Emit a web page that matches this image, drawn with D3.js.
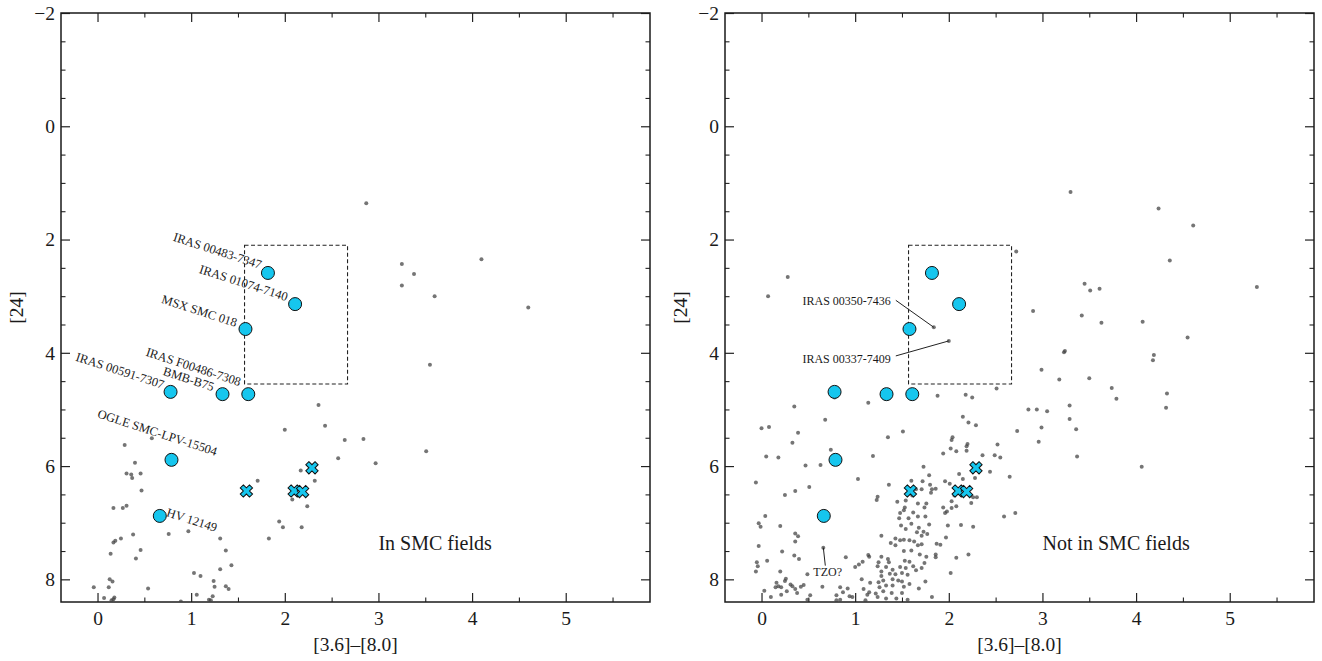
<!DOCTYPE html>
<html><head><meta charset="utf-8">
<script src="https://cdn.jsdelivr.net/npm/d3@7"></script>
<style>
body{margin:0;background:#fff}
svg text{font-family:"Liberation Serif","Times New Roman",Times,serif;fill:#1a1a1a}
</style>
</head><body>
<svg id="chart" width="1322" height="661"></svg>
<script>
// ---------------- DATA ----------------
const xMajorTicks = [0, 1, 2, 3, 4, 5];
const yMajorTicks = [-2, 0, 2, 4, 6, 8];
const xTitle = "[3.6]\u2013[8.0]";
const yTitle = "[24]";
const panelNames = ["In SMC fields", "Not in SMC fields"];

// Named objects (cyan circles): [3.6]-[8.0], [24]
const objNames = ["IRAS 00483-7347", "IRAS 01074-7140", "MSX SMC 018", "IRAS 00591-7307",
                  "BMB-B75", "IRAS F00486-7308", "OGLE SMC-LPV-15504", "HV 12149"];
const objColor = [1.82, 2.11, 1.58, 0.78, 1.335, 1.61, 0.79, 0.665];
const objMag   = [2.59, 3.14, 3.58, 4.69, 4.73, 4.73, 5.89, 6.88];

// Cross markers
const crossColor = [1.59, 2.10, 2.19, 2.29];
const crossMag   = [6.44, 6.44, 6.45, 6.03];

// Selection box
const boxColor = [1.57, 2.67];
const boxMag   = [2.10, 4.55];

// Background sources in SMC fields
const smcDots = [
[2.87,1.36],[3.25,2.43],[3.38,2.61],[3.25,2.81],[3.60,3.00],[4.10,2.35],[4.60,3.20],[3.55,4.21],[3.51,5.74],
[2.36,4.92],[2.43,5.29],[2.00,5.36],[2.64,5.54],[2.84,5.52],[2.57,5.86],[2.97,5.95],[2.17,6.08],[2.32,6.26],
[1.71,6.26],[2.08,6.59],[2.24,6.71],[1.94,6.98],[1.98,7.08],[2.18,7.08],[1.83,7.28],
[0.58,5.51],[0.29,5.63],[0.40,5.94],[0.31,6.13],[0.36,6.15],[0.46,6.13],[0.37,6.21],[0.47,6.43],[0.17,6.74],
[0.27,6.74],[0.31,6.70],[0.76,7.20],[0.97,7.15],[0.38,7.21],[0.25,7.28],[0.17,7.35],[0.19,7.32],[0.14,7.55],
[0.46,7.48],[0.41,7.63],[1.31,7.28],[1.37,7.49],[1.43,7.75],[1.31,7.82],[1.03,7.89],[1.10,7.94],[1.24,8.03],
[1.25,8.13],[1.37,8.12],[1.40,8.17],[0.13,8.00],[0.16,8.04],[0.12,8.14],[-0.04,8.14],[0.54,8.16],[1.06,8.27],
[1.23,8.30],[1.19,8.36],[0.07,8.33],[0.17,8.35],[0.18,8.32],[0.89,8.39],[0.15,8.37],[1.21,8.37]
];

// Background sources not in SMC fields
const fieldDots = [
[0.07,3.00],[0.28,2.66],[1.84,3.55],[2.00,3.79],
[3.30,1.16],[4.24,1.45],[4.61,1.75],[2.72,2.21],[4.36,2.37],[5.29,2.84],[3.45,2.78],[3.51,2.90],[3.61,2.87],
[2.90,3.26],[3.42,3.34],[3.63,3.47],[4.07,3.45],[3.24,3.97],[3.23,3.99],[2.99,4.30],[3.18,4.47],[3.50,4.45],
[3.74,4.62],[3.79,4.81],[2.51,4.63],[2.25,4.79],[4.55,3.73],[4.18,4.13],[4.19,4.04],[4.33,4.72],[4.32,4.97],
[2.85,5.00],[2.94,5.00],[3.05,5.03],[3.29,4.93],[3.29,5.17],[2.99,5.32],[3.36,5.35],[2.73,5.38],[2.96,5.57],
[3.37,5.83],[4.06,6.01],[2.55,5.85],[2.65,6.19],[2.59,6.89],[2.71,6.83],
[0.78,4.79],[1.14,4.88],[1.88,4.76],[2.18,4.74],
[0.35,4.95],[0.68,5.18],[0.00,5.33],[0.08,5.31],[0.39,5.41],[0.33,5.59],[0.74,5.71],[0.05,5.83],[0.18,5.85],
[1.19,5.82],[0.47,5.99],[0.63,5.98],[-0.06,6.29],[1.03,6.23],[0.51,6.37],[0.36,6.44],[0.25,6.51],[1.24,6.54],
[1.23,6.60],[0.04,6.88],[-0.03,7.01],[-0.01,7.07],[0.20,7.06],[0.36,7.19],[0.39,7.24],[0.36,7.33],[1.28,7.23],
[-0.03,7.41],[0.66,7.44],[0.22,7.51],[0.35,7.58],[0.40,7.64],[0.06,7.67],[-0.05,7.70],[-0.04,7.77],[-0.06,7.86],
[0.90,7.61],[1.00,7.78],[1.04,7.74],[1.08,7.69],[1.14,7.57],[1.15,7.60],[1.25,7.70],[1.24,7.77],[1.28,7.86],
[0.49,7.91],[0.20,7.86],[0.26,7.99],[0.25,8.03],[0.16,8.06],[0.18,8.12],[0.15,8.14],[0.21,8.14],[0.31,8.09],
[0.33,8.12],[0.36,8.17],[0.42,8.13],[0.45,8.10],[0.38,8.24],[0.27,8.21],[0.21,8.27],[0.03,8.20],[0.10,8.31],
[0.52,8.28],[0.65,8.13],[0.84,8.14],[0.80,8.28],[0.87,8.23],[0.92,8.16],[0.97,8.31],[0.94,8.30],[1.07,8.00],
[1.16,8.06],[1.09,8.17],[1.15,8.23],[1.13,8.27],[1.22,8.25],[1.24,8.31],[1.26,8.14],[1.25,8.05],[1.28,7.94],
[0.49,8.36],[0.80,8.37],[0.84,8.36],[1.11,8.37],
[1.51,5.39],[1.35,5.49],[2.15,5.13],[2.21,5.23],[2.29,5.28],[2.04,5.49],[2.03,5.54],[2.20,5.61],[2.19,5.65],
[2.02,5.69],[2.08,5.74],[2.19,5.73],[2.52,5.62],[1.94,5.78],[2.36,5.81],[2.49,5.81],[1.73,6.01],[2.44,6.10],
[2.11,6.14],[2.15,6.23],[2.28,6.21],[1.79,6.16],[1.60,6.26],[1.72,6.27],[1.80,6.33],[1.36,6.33],[1.96,6.27],
[2.01,6.31],[1.65,6.41],[1.71,6.41],[1.82,6.41],[1.86,6.40],[1.81,6.47],[2.26,6.55],[2.30,6.55],[2.06,6.52],
[1.45,6.63],[1.54,6.61],[1.61,6.52],[1.67,6.66],[1.76,6.66],[2.03,6.62],[2.24,6.65],[1.94,6.73],[2.03,6.74],
[2.08,6.71],[1.98,6.80],[1.96,6.83],[1.53,6.73],[1.74,6.73],[1.48,6.83],[1.52,6.78],[1.62,6.82],[1.67,6.89],
[1.75,6.89],[1.47,6.92],[1.57,6.92],[1.79,7.03],[1.99,7.05],[2.13,7.04],[2.26,7.07],[1.49,7.05],[1.54,7.11],
[1.60,7.02],[1.68,7.09],[1.66,7.17],[1.73,7.16],[1.71,7.23],[1.77,7.20],[1.97,7.26],[1.43,7.28],[1.48,7.31],
[1.52,7.30],[1.58,7.31],[1.38,7.36],[1.43,7.40],[1.63,7.33],[1.67,7.40],[1.71,7.38],[1.87,7.37],[1.91,7.39],
[1.52,7.50],[1.60,7.49],[1.69,7.56],[1.76,7.60],[1.86,7.56],[1.86,7.61],[2.08,7.62],[2.21,7.56],[1.28,7.60],
[1.35,7.64],[1.36,7.70],[1.53,7.67],[1.58,7.69],[1.33,7.78],[1.40,7.83],[1.48,7.78],[1.54,7.80],[1.62,7.77],
[1.65,7.84],[1.71,7.80],[1.74,7.71],[1.37,7.90],[1.43,7.91],[1.50,7.89],[1.56,7.92],[1.75,8.04],[2.02,7.89],
[1.40,8.00],[1.46,8.02],[1.50,8.04],[1.58,8.08],[1.30,8.02],[1.33,8.11],[1.40,8.11],[1.52,8.13],[1.68,8.16],
[1.30,8.21],[1.39,8.24],[1.50,8.24],[1.82,8.31],[1.33,8.34],[1.44,8.34],[1.56,8.36]
];

// Callouts in the right panel (point they refer to)
const calloutNames = ["IRAS 00350-7436", "IRAS 00337-7409", "TZO?"];
const calloutColor = [1.84, 2.00, 0.66];
const calloutMag   = [3.55, 3.79, 7.44];

// ---------------- LAYOUT / STYLE ----------------
const xDomain = [-0.39, 5.9], yDomain = [-2, 8.4];
const panels = [
  {left: 61,  top: 13, w: 589, h: 589, dots: smcDots,   name: panelNames[0], labels: true},
  {left: 725, top: 13, w: 589, h: 589, dots: fieldDots, name: panelNames[1], labels: false}
];
const cyan = "#16c6ee";
const fontSize = 19.5;
// label placement (pixel offsets from marker, anchor)
const labelStyle = [
  {dx:-8, dy:-4, a:"end"}, {dx:-9, dy:-3, a:"end"}, {dx:-10, dy:-2, a:"end"}, {dx:-8, dy:-3, a:"end"},
  {dx:-10, dy:-3, a:"end"}, {dx:-9, dy:-8, a:"end"}, {dx:44, dy:-4, a:"end"}, {dx:6, dy:0, a:"start"}
];
const calloutStyle = [
  {tx:-43, ty:-22, a:"end", lx:-38, ly:-27},
  {tx:-58, ty:22, a:"end", lx:-53, ly:15},
  {tx:-10, ty:28, a:"start", lx:2, ly:18}
];

const svg = d3.select("#chart");
const fmt = v => (v < 0 ? "\u2212" : "") + Math.abs(v);
const range = (a, b, s) => d3.range(a, b + 1e-9, s);
const xMinor = range(-0.0, 5.5, 0.5).filter(v => !xMajorTicks.includes(v));
const yMinor = range(-2, 8, 0.5).filter(v => !yMajorTicks.includes(v));

panels.forEach((p, pi) => {
  const x = d3.scaleLinear().domain(xDomain).range([p.left, p.left + p.w]);
  const y = d3.scaleLinear().domain(yDomain).range([p.top, p.top + p.h]);
  const g = svg.append("g");
  const clipId = "clip" + pi;
  svg.append("clipPath").attr("id", clipId).append("rect")
    .attr("x", p.left).attr("y", p.top).attr("width", p.w).attr("height", p.h);

  // axes (ticks inward)
  const axes = [
    {ax: d3.axisBottom(x), tr: `translate(0,${p.top + p.h})`, maj: xMajorTicks, min: xMinor, lab: true, pad: 9.5},
    {ax: d3.axisTop(x), tr: `translate(0,${p.top})`, maj: xMajorTicks, min: xMinor, lab: false},
    {ax: d3.axisLeft(y), tr: `translate(${p.left},0)`, maj: yMajorTicks, min: yMinor, lab: true, pad: 6},
    {ax: d3.axisRight(y), tr: `translate(${p.left + p.w},0)`, maj: yMajorTicks, min: yMinor, lab: false}
  ];
  axes.forEach(a => {
    const gm = g.append("g").attr("transform", a.tr)
      .call(a.ax.tickValues(a.maj).tickSize(-9).tickPadding(a.pad || 3)
        .tickFormat(a.lab ? fmt : () => ""));
    gm.attr("font-family", null);
    gm.select(".domain").remove();
    gm.selectAll(".tick line").attr("stroke", "#222").attr("stroke-width", 1.2);
    gm.selectAll(".tick text").attr("font-size", fontSize).attr("fill", "#1a1a1a")
      .style("font-family", '"Liberation Serif","Times New Roman",serif');
    const gn = g.append("g").attr("transform", a.tr)
      .call(a.ax.tickValues(a.min).tickSize(-4.5).tickFormat(() => ""));
    gn.select(".domain").remove();
    gn.selectAll(".tick line").attr("stroke", "#222").attr("stroke-width", 1.1);
  });

  // frame
  g.append("rect").attr("x", p.left).attr("y", p.top).attr("width", p.w).attr("height", p.h)
    .attr("fill", "none").attr("stroke", "#1a1a1a").attr("stroke-width", 1.5);

  // axis titles
  g.append("text").attr("x", p.left + p.w / 2).attr("y", 651).attr("text-anchor", "middle")
    .attr("font-size", fontSize).text(xTitle);
  g.append("text").attr("transform", `translate(${p.left - 38},${p.top + p.h / 2}) rotate(-90)`)
    .attr("text-anchor", "middle").attr("font-size", fontSize).text(yTitle);

  const plot = g.append("g").attr("clip-path", `url(#${clipId})`);

  // dashed selection box
  plot.append("rect")
    .attr("x", x(boxColor[0])).attr("y", y(boxMag[0]))
    .attr("width", x(boxColor[1]) - x(boxColor[0])).attr("height", y(boxMag[1]) - y(boxMag[0]))
    .attr("fill", "none").attr("stroke", "#222").attr("stroke-width", 1.1)
    .attr("stroke-dasharray", "4,2.5");

  // background dots
  plot.selectAll("circle.dot").data(p.dots).enter().append("circle")
    .attr("class", "dot").attr("cx", d => x(d[0])).attr("cy", d => y(d[1])).attr("r", 2)
    .attr("fill", "#404040").attr("fill-opacity", 0.72);

  // callouts (right panel)
  if (!p.labels) {
    calloutNames.forEach((n, i) => {
      const px = x(calloutColor[i]), py = y(calloutMag[i]), s = calloutStyle[i];
      g.append("line").attr("x1", px + s.lx).attr("y1", py + s.ly).attr("x2", px).attr("y2", py)
        .attr("stroke", "#222").attr("stroke-width", 1);
      g.append("text").attr("x", px + s.tx).attr("y", py + s.ty).attr("text-anchor", s.a)
        .attr("font-size", 12).text(n);
    });
  }

  // crosses
  const crossPath = d3.symbol().type(d3.symbolCross).size(95)();
  plot.selectAll("path.cross").data(crossColor.map((c, i) => [c, crossMag[i]])).enter().append("path")
    .attr("class", "cross").attr("d", crossPath)
    .attr("transform", d => `translate(${x(d[0])},${y(d[1])}) rotate(45)`)
    .attr("fill", cyan).attr("stroke", "#111").attr("stroke-width", 1);

  // named circles
  const objs = objNames.map((n, i) => ({n, c: objColor[i], m: objMag[i], s: labelStyle[i]}));
  plot.selectAll("circle.obj").data(objs).enter().append("circle")
    .attr("class", "obj").attr("cx", d => x(d.c)).attr("cy", d => y(d.m)).attr("r", 6.5)
    .attr("fill", cyan).attr("stroke", "#111").attr("stroke-width", 1);

  if (p.labels) {
    g.selectAll("text.lbl").data(objs).enter().append("text").attr("class", "lbl")
      .attr("transform", d => `translate(${x(d.c) + d.s.dx},${y(d.m) + d.s.dy}) rotate(18)`)
      .attr("text-anchor", d => d.s.a).attr("font-size", 12.5).text(d => d.n);
  }

  // panel annotation
  g.append("text").attr("x", x(3.0)).attr("y", y(7.49)).attr("font-size", 20).text(p.name);
});
</script>
</body></html>
